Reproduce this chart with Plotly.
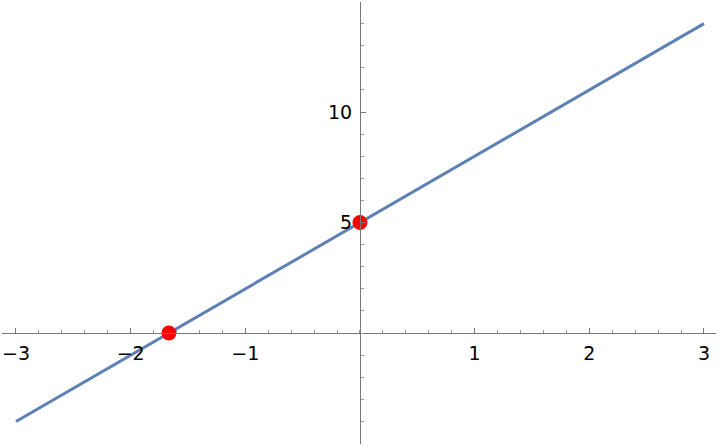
import numpy as np
import plotly.graph_objects as go

# line y = 3x + 5 sampled at its ends, plus the two intercepts
line_x = [-3, 3]
line_y = [-4, 14]
point_x = [-5 / 3, 0]
point_y = [0, 5]

x_tick_vals = [-3, -2, -1, 1, 2, 3]
x_tick_text = ["\u22123", "\u22122", "\u22121", "1", "2", "3"]
y_tick_vals = [-5, 5, 10]
y_tick_text = ["", "5", "10"]

x_range = [-3.122, 3.105]
y_range = [-5.02, 14.98]

fig = go.Figure()
fig.add_trace(go.Scatter(
    x=line_x, y=line_y, mode="lines",
    line=dict(color="#5E81B5", width=3),
    hoverinfo="skip",
))
fig.add_trace(go.Scatter(
    x=point_x, y=point_y, mode="markers",
    marker=dict(color="#FF0000", size=15),
))

axis_font = dict(family="DejaVu Sans", size=19, color="black")

fig.update_layout(
    width=720, height=446,
    margin=dict(l=2, r=4, t=2, b=2, autoexpand=False),
    plot_bgcolor="white", paper_bgcolor="white",
    showlegend=False,
    xaxis=dict(
        range=x_range, showgrid=False, zeroline=False,
        anchor="free", position=(0 - y_range[0]) / (y_range[1] - y_range[0]),
        showline=True, linecolor="#777777", linewidth=1,
        tickvals=x_tick_vals, ticktext=x_tick_text,
        ticks="inside", ticklen=5, tickcolor="#777777",
        minor=dict(dtick=0.2, ticks="inside", ticklen=3, tickcolor="#999999"),
        tickfont=axis_font, ticklabelstandoff=3, automargin=False,
    ),
    yaxis=dict(
        range=y_range, showgrid=False, zeroline=False,
        anchor="free", position=(0 - x_range[0]) / (x_range[1] - x_range[0]),
        showline=True, linecolor="#777777", linewidth=1,
        tickvals=y_tick_vals, ticktext=y_tick_text,
        ticks="inside", ticklen=5, tickcolor="#777777",
        minor=dict(dtick=1, ticks="inside", ticklen=3, tickcolor="#999999"),
        tickfont=axis_font, ticklabelstandoff=4, automargin=False,
    ),
)

fig.write_html("out.html", config={"displayModeBar": False},
               post_script="document.body.style.margin = '0';")
